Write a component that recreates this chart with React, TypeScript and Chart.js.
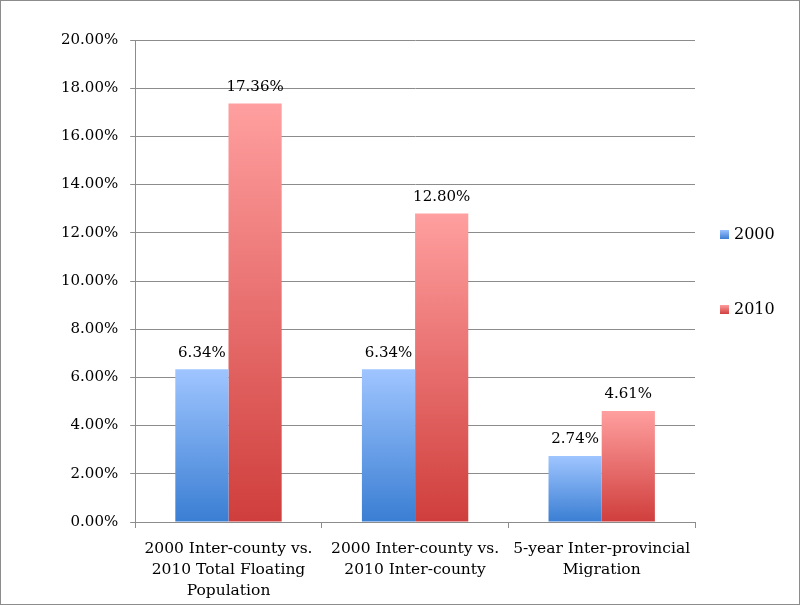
import React, { useEffect, useRef } from "react";
import { Chart, registerables } from "chart.js";

Chart.register(...registerables);

const categories: string[][] = [
  ["2000 Inter-county vs.", "2010 Total Floating", "Population"],
  ["2000 Inter-county vs.", "2010 Inter-county"],
  ["5-year Inter-provincial", "Migration"],
];
const series2000: number[] = [6.34, 6.34, 2.74];
const series2010: number[] = [17.36, 12.8, 4.61];
const seriesLabels: string[] = ["2000", "2010"];
const yTicksMax = 20;
const yTicksStep = 2;

const FONT = "'DejaVu Serif', serif";

function gradientFor(top: string, bottom: string) {
  return (ctx: any) => {
    const chart = ctx.chart;
    const area = chart.chartArea;
    if (!area || ctx.type !== "data") return bottom;
    const y = chart.scales.y;
    const v = ctx.raw as number;
    const y0 = y.getPixelForValue(v);
    const y1 = y.getPixelForValue(0);
    const g = chart.ctx.createLinearGradient(0, y0, 0, y1);
    g.addColorStop(0, top);
    g.addColorStop(1, bottom);
    return g;
  };
}

const valueLabels = {
  id: "valueLabels",
  afterDatasetsDraw(chart: any) {
    const ctx = chart.ctx;
    ctx.save();
    ctx.font = `15px ${FONT}`;
    ctx.fillStyle = "#000";
    ctx.textAlign = "center";
    ctx.textBaseline = "bottom";
    chart.data.datasets.forEach((ds: any, di: number) => {
      const meta = chart.getDatasetMeta(di);
      meta.data.forEach((el: any, i: number) => {
        const v = ds.data[i] as number;
        ctx.fillText(v.toFixed(2) + "%", el.x, el.y - 9);
      });
    });
    ctx.restore();
  },
};

const sideLegend = {
  id: "sideLegend",
  afterDraw(chart: any) {
    const ctx = chart.ctx;
    const area = chart.chartArea;
    const cy = (area.top + area.bottom) / 2;
    const offsets = [-47, 28];
    const colors = [
      ["#9cc2ff", "#3b7fd4"],
      ["#ff9c9c", "#cf3f3d"],
    ];
    ctx.save();
    ctx.font = `16px ${FONT}`;
    ctx.textBaseline = "middle";
    ctx.textAlign = "left";
    chart.data.datasets.forEach((ds: any, i: number) => {
      const y = cy + offsets[i];
      const x = area.right + 25;
      const g = ctx.createLinearGradient(0, y - 4, 0, y + 5);
      g.addColorStop(0, colors[i][0]);
      g.addColorStop(1, colors[i][1]);
      ctx.fillStyle = g;
      ctx.fillRect(x, y - 4, 9, 9);
      ctx.fillStyle = "#000";
      ctx.fillText(ds.label, x + 14, y + 1);
    });
    ctx.restore();
  },
};

export default function App() {
  const ref = useRef<HTMLCanvasElement>(null);
  useEffect(() => {
    document.body.style.margin = "0";
    const chart = new Chart(ref.current!, {
      type: "bar",
      data: {
        labels: categories,
        datasets: [
          {
            label: seriesLabels[0],
            data: series2000,
            backgroundColor: gradientFor("#9fc5ff", "#3a7ed3"),
          },
          {
            label: seriesLabels[1],
            data: series2010,
            backgroundColor: gradientFor("#ff9f9f", "#cf3e3c"),
          },
        ],
      },
      options: {
        animation: false,
        responsive: false,
        maintainAspectRatio: false,
        layout: { padding: { left: 48, top: 39, right: 104, bottom: -7 } },
        plugins: {
          legend: { display: false },
          tooltip: { enabled: false },
        },
        datasets: {
          bar: { categoryPercentage: 0.57, barPercentage: 1 },
        },
        scales: {
          x: {
            grid: {
              display: true,
              drawOnChartArea: false,
              offset: true,
              color: "#8c8c8c",
              tickLength: 6,
            },
            border: { color: "#8c8c8c" },
            ticks: {
              color: "#000",
              font: { family: FONT, size: 15.5, lineHeight: "21px" },
              maxRotation: 0,
              minRotation: 0,
              autoSkip: false,
              padding: 10,
            },
          },
          y: {
            min: 0,
            max: yTicksMax,
            grid: { color: "#8c8c8c", tickLength: 5 },
            border: { color: "#8c8c8c" },
            ticks: {
              stepSize: yTicksStep,
              color: "#000",
              font: { family: FONT, size: 15 },
              padding: 12,
              callback: (v: any) => Number(v).toFixed(2) + "%",
            },
          },
        },
      },
      plugins: [valueLabels, sideLegend],
    });
    return () => chart.destroy();
  }, []);
  return (
    <div
      style={{
        width: 800,
        height: 605,
        boxSizing: "border-box",
        border: "1px solid #8c8c8c",
        background: "#fff",
      }}
    >
      <canvas ref={ref} width={798} height={603} style={{ display: "block" }} />
    </div>
  );
}
